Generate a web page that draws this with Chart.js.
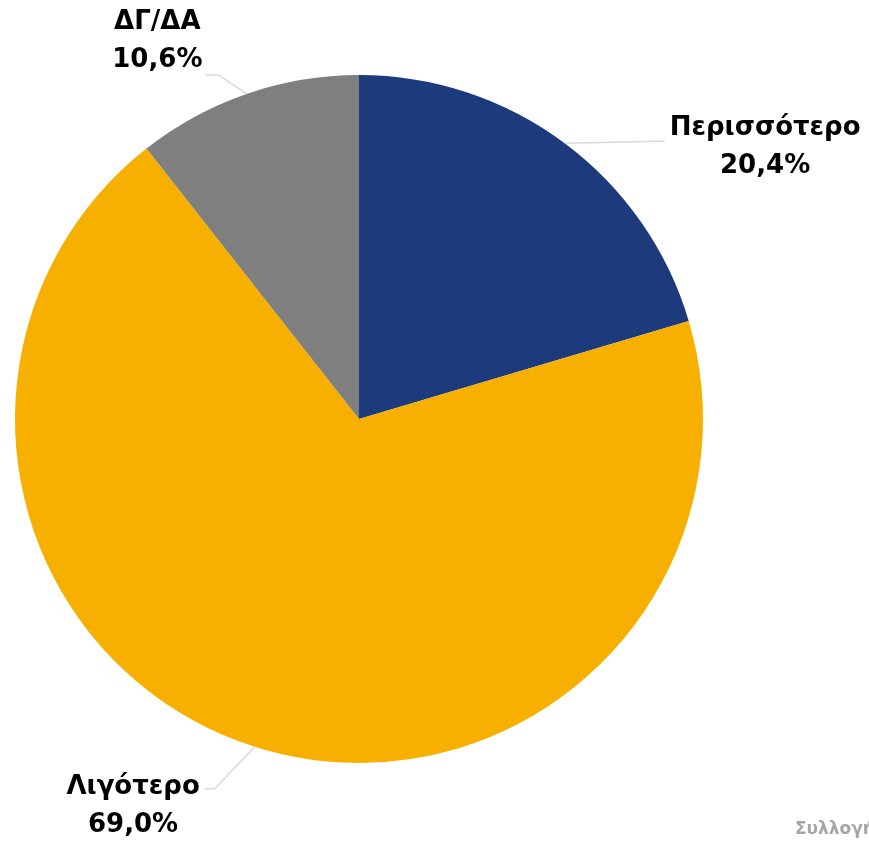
<!DOCTYPE html>
<html>
<head>
<meta charset="utf-8">
<script src="https://cdn.jsdelivr.net/npm/chart.js@4.4.0/dist/chart.umd.min.js"></script>
<style>
  html, body { margin: 0; padding: 0; background: #fff; overflow: hidden; }
  #wrap { position: relative; width: 869px; height: 841px; }
</style>
</head>
<body>
<div id="wrap"><canvas id="myChart" width="869" height="841"></canvas></div>
<script>
const labels = ["Περισσότερο", "Λιγότερο", "ΔΓ/ΔΑ"];
const values = [20.4, 69.0, 10.6];
const colors = ["#1c3a7c", "#f7b000", "#7f7f7f"];
const source = "Συλλογή στοιχείων";

// leader line shape from the slice edge, and where the first text line sits vs the leader end
const leaders = [
  { ex: 95, ey: -2, tx: 100, align: "left", ty: -13 },
  { ex: -40, ey: 42, tx: -50, align: "right", ty: -2 },
  { ex: -28, ey: -19, tx: -41, align: "right", ty: -53 },
];

const fmt = (v) => v.toFixed(1).replace(".", ",") + "%";

const labelPlugin = {
  id: "pieLabels",
  afterDatasetsDraw(chart) {
    const ctx = chart.ctx;
    const meta = chart.getDatasetMeta(0);
    ctx.save();
    ctx.font = "bold 26px 'DejaVu Sans'";
    ctx.textBaseline = "middle";
    meta.data.forEach((arc, i) => {
      const mid = (arc.startAngle + arc.endAngle) / 2;
      const px = arc.x + Math.cos(mid) * arc.outerRadius;
      const py = arc.y + Math.sin(mid) * arc.outerRadius;
      const l = leaders[i];
      const ex = px + l.ex;
      const ey = py + l.ey;
      const endX = px + l.tx;
      ctx.strokeStyle = "#d9d9d9";
      ctx.lineWidth = 1.5;
      ctx.beginPath();
      ctx.moveTo(px, py);
      ctx.lineTo(ex, ey);
      ctx.lineTo(endX, ey);
      ctx.stroke();

      const w1 = ctx.measureText(labels[i]).width;
      const cx = l.align === "left" ? endX + 5 + w1 / 2 : endX - 5 - w1 / 2;
      const t1y = ey + l.ty;
      ctx.fillStyle = "#000";
      ctx.textAlign = "center";
      ctx.fillText(labels[i], cx, t1y);
      ctx.fillText(fmt(values[i]), cx, t1y + 38);
    });
    ctx.font = "bold 17px 'DejaVu Sans'";
    ctx.fillStyle = "#a6a6a6";
    ctx.textAlign = "left";
    ctx.fillText(source, 795, 830);
    ctx.restore();
  },
};

new Chart(document.getElementById("myChart"), {
  type: "pie",
  data: {
    labels: labels,
    datasets: [
      {
        data: values,
        backgroundColor: colors,
        borderWidth: 0,
      },
    ],
  },
  options: {
    responsive: false,
    animation: false,
    layout: { padding: { left: 15, top: 75, right: 166, bottom: 78 } },
    plugins: {
      legend: { display: false },
      tooltip: { enabled: false },
    },
  },
  plugins: [labelPlugin],
});
</script>
</body>
</html>
